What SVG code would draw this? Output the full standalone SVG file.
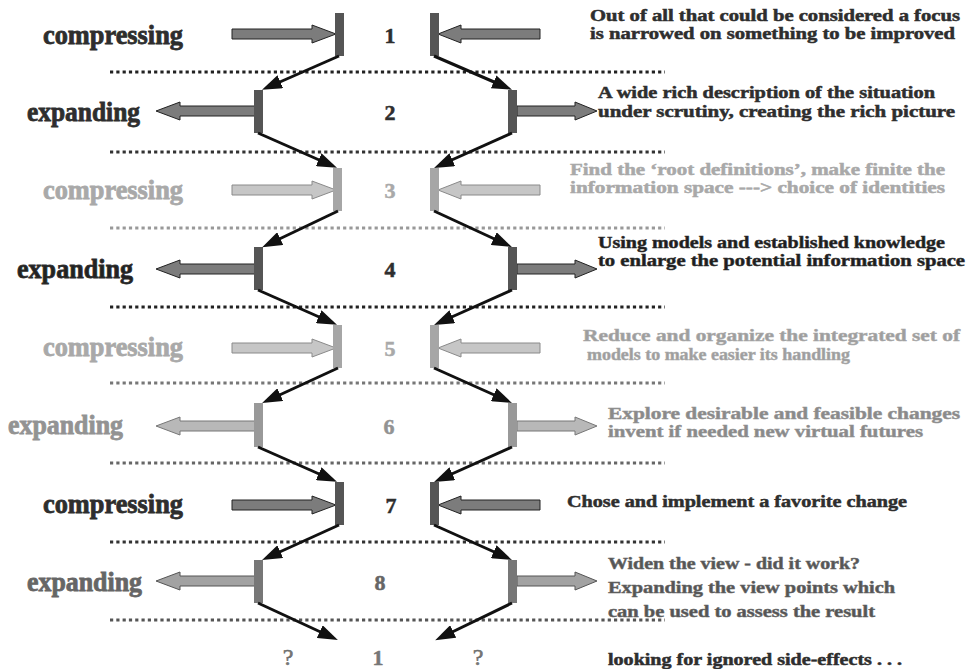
<svg xmlns="http://www.w3.org/2000/svg" width="968" height="669" viewBox="0 0 968 669">
  <defs>
    <style>
      text { font-family: "Liberation Serif", "Times New Roman", serif; font-weight: bold; stroke-width: 0.5; }
      .label { font-size: 27px; stroke-width: 0.8; }
      .num { font-size: 22px; text-anchor: middle; }
      .desc { font-size: 17px; }
      .q { font-size: 24px; font-weight: normal; text-anchor: middle; stroke: none; }
      .link { fill: none; stroke: #111; stroke-width: 3; marker-end: url(#head); }
      .div { fill: none; stroke-width: 3; stroke-dasharray: 3.2 3.1; }
      /* tones */
      .dark text { fill: #2e2e2e; stroke: #2e2e2e; }
      .dark .bar { fill: #555; }
      .dark .blk { fill: #7c7c7c; stroke: #222; stroke-width: 1; }
      .light text { fill: #a9a9a9; stroke: #a9a9a9; }
      .light .bar { fill: #a6a6a6; }
      .light .blk { fill: #c6c6c6; stroke: #8a8a8a; stroke-width: 1; }
      .mid text { fill: #939393; stroke: #939393; }
      .mid .bar { fill: #999; }
      .mid .blk { fill: #b8b8b8; stroke: #777; stroke-width: 1; }
      .deep text { fill: #666; stroke: #666; }
      .deep .bar { fill: #777; }
      .deep .blk { fill: #a2a2a2; stroke: #555; stroke-width: 1; }
    </style>
    <marker id="head" viewBox="0 0 20 14" markerUnits="userSpaceOnUse" markerWidth="20" markerHeight="14" refX="8" refY="7" orient="auto">
      <path d="M0,0 L20,7 L0,14 Z" fill="#111"/>
    </marker>
    <!-- block arrows drawn around a centre line at y=0 -->
    <polygon id="arrow-in-left" points="232,-5 312,-5 312,-9 336,0 312,9 312,5 232,5"/>
    <polygon id="arrow-in-right" points="540,-5 461,-5 461,-9 438,0 461,9 461,5 540,5"/>
    <polygon id="arrow-out-left" points="255,-5 180,-5 180,-9 156,0 180,9 180,5 255,5"/>
    <polygon id="arrow-out-right" points="517,-5 575,-5 575,-9 597,0 575,9 575,5 517,5"/>
  </defs>

  <rect width="968" height="669" fill="#fff"/>

  <!-- dotted dividers between stages -->
  <g id="dividers">
    <line class="div" x1="110" y1="72" x2="665" y2="72" stroke="#222"/>
    <line class="div" x1="110" y1="152" x2="665" y2="152" stroke="#333"/>
    <line class="div" x1="110" y1="228" x2="665" y2="228" stroke="#999"/>
    <line class="div" x1="110" y1="307" x2="665" y2="307" stroke="#222"/>
    <line class="div" x1="110" y1="383" x2="665" y2="383" stroke="#777"/>
    <line class="div" x1="110" y1="463" x2="665" y2="463" stroke="#666"/>
    <line class="div" x1="110" y1="542" x2="665" y2="542" stroke="#333"/>
    <line class="div" x1="110" y1="620" x2="665" y2="620" stroke="#555"/>
  </g>

  <!-- stage 1: compressing -->
  <g id="stage-1" class="dark">
    <text class="label" x="43" y="44" textLength="140" lengthAdjust="spacingAndGlyphs">compressing</text>
    <use href="#arrow-in-left" class="blk" transform="translate(0,34)"/>
    <use href="#arrow-in-right" class="blk" transform="translate(0,34)"/>
    <rect class="bar" x="335" y="13" width="9" height="43"/>
    <rect class="bar" x="430" y="13" width="9" height="43"/>
    <text class="num" x="390" y="43">1</text>
    <text class="desc" x="590" y="21" textLength="370" lengthAdjust="spacingAndGlyphs">Out of all that could be considered a focus</text>
    <text class="desc" x="590" y="39" textLength="365" lengthAdjust="spacingAndGlyphs">is narrowed on something to be improved</text>
  </g>

  <!-- stage 2: expanding -->
  <g id="stage-2" class="dark">
    <text class="label" x="27" y="121" textLength="113" lengthAdjust="spacingAndGlyphs">expanding</text>
    <use href="#arrow-out-left" class="blk" transform="translate(0,111)"/>
    <use href="#arrow-out-right" class="blk" transform="translate(0,111)"/>
    <rect class="bar" x="254" y="90" width="9" height="43"/>
    <rect class="bar" x="508" y="90" width="9" height="43"/>
    <text class="num" x="390" y="120">2</text>
    <text class="desc" x="598" y="98" textLength="337" lengthAdjust="spacingAndGlyphs">A wide rich description of the situation</text>
    <text class="desc" x="598" y="117" textLength="357" lengthAdjust="spacingAndGlyphs">under scrutiny, creating the rich picture</text>
  </g>

  <!-- stage 3: compressing -->
  <g id="stage-3" class="light">
    <text class="label" x="43" y="199" textLength="140" lengthAdjust="spacingAndGlyphs">compressing</text>
    <use href="#arrow-in-left" class="blk" transform="translate(0,190)"/>
    <use href="#arrow-in-right" class="blk" transform="translate(0,190)"/>
    <rect class="bar" x="333" y="168" width="9" height="43"/>
    <rect class="bar" x="430" y="168" width="9" height="43"/>
    <text class="num" x="390" y="198">3</text>
    <text class="desc" x="570" y="175" textLength="375" lengthAdjust="spacingAndGlyphs">Find the ‘root definitions’, make finite the</text>
    <text class="desc" x="570" y="193" textLength="375" lengthAdjust="spacingAndGlyphs">information space ---&gt; choice of identities</text>
  </g>

  <!-- stage 4: expanding -->
  <g id="stage-4" class="dark">
    <text class="label" x="17" y="278" textLength="116" lengthAdjust="spacingAndGlyphs" style="fill:#222">expanding</text>
    <use href="#arrow-out-left" class="blk" transform="translate(0,269)"/>
    <use href="#arrow-out-right" class="blk" transform="translate(0,269)"/>
    <rect class="bar" x="254" y="247" width="9" height="43"/>
    <rect class="bar" x="508" y="247" width="9" height="43"/>
    <text class="num" x="390" y="277">4</text>
    <text class="desc" x="598" y="248" textLength="347" lengthAdjust="spacingAndGlyphs" style="fill:#1e1e1e">Using models and established knowledge</text>
    <text class="desc" x="598" y="266" textLength="367" lengthAdjust="spacingAndGlyphs" style="fill:#1e1e1e">to enlarge the potential  information space</text>
  </g>

  <!-- stage 5: compressing -->
  <g id="stage-5" class="light">
    <text class="label" x="43" y="356" textLength="140" lengthAdjust="spacingAndGlyphs">compressing</text>
    <use href="#arrow-in-left" class="blk" transform="translate(0,348)"/>
    <use href="#arrow-in-right" class="blk" transform="translate(0,348)"/>
    <rect class="bar" x="333" y="325" width="9" height="43"/>
    <rect class="bar" x="430" y="325" width="9" height="43"/>
    <text class="num" x="390" y="356">5</text>
    <text class="desc" x="583" y="341" textLength="377" lengthAdjust="spacingAndGlyphs" style="fill:#9e9e9e">Reduce and organize the integrated set of</text>
    <text class="desc" x="587" y="360" textLength="263" lengthAdjust="spacingAndGlyphs" style="fill:#9e9e9e">models to make easier its handling</text>
  </g>

  <!-- stage 6: expanding -->
  <g id="stage-6" class="mid">
    <text class="label" x="8" y="434" textLength="115" lengthAdjust="spacingAndGlyphs">expanding</text>
    <use href="#arrow-out-left" class="blk" transform="translate(0,426)"/>
    <use href="#arrow-out-right" class="blk" transform="translate(0,426)"/>
    <rect class="bar" x="254" y="403" width="9" height="44"/>
    <rect class="bar" x="508" y="403" width="9" height="44"/>
    <text class="num" x="389" y="434">6</text>
    <text class="desc" x="608" y="419" textLength="352" lengthAdjust="spacingAndGlyphs" style="fill:#8a8a8a">Explore desirable and feasible changes</text>
    <text class="desc" x="608" y="437" textLength="315" lengthAdjust="spacingAndGlyphs" style="fill:#8a8a8a">invent if needed  new virtual futures</text>
  </g>

  <!-- stage 7: compressing -->
  <g id="stage-7" class="dark">
    <text class="label" x="43" y="513" textLength="140" lengthAdjust="spacingAndGlyphs">compressing</text>
    <use href="#arrow-in-left" class="blk" transform="translate(0,505)"/>
    <use href="#arrow-in-right" class="blk" transform="translate(0,505)"/>
    <rect class="bar" x="335" y="482" width="9" height="43"/>
    <rect class="bar" x="430" y="482" width="9" height="43"/>
    <text class="num" x="391" y="513">7</text>
    <text class="desc" x="567" y="507" textLength="340" lengthAdjust="spacingAndGlyphs">Chose and implement a favorite change</text>
  </g>

  <!-- stage 8: expanding -->
  <g id="stage-8" class="deep">
    <text class="label" x="27" y="591" textLength="115" lengthAdjust="spacingAndGlyphs">expanding</text>
    <use href="#arrow-out-left" class="blk" transform="translate(0,581)"/>
    <use href="#arrow-out-right" class="blk" transform="translate(0,581)"/>
    <rect class="bar" x="254" y="560" width="9" height="43"/>
    <rect class="bar" x="508" y="560" width="9" height="43"/>
    <text class="num" x="380" y="590">8</text>
    <text class="desc" x="608" y="569" textLength="252" lengthAdjust="spacingAndGlyphs" style="fill:#555">Widen the view - did it work?</text>
    <text class="desc" x="608" y="593" textLength="287" lengthAdjust="spacingAndGlyphs" style="fill:#555">Expanding the view points which</text>
    <text class="desc" x="608" y="617" textLength="267" lengthAdjust="spacingAndGlyphs" style="fill:#555">can be used to assess the result</text>
  </g>

  <!-- back to the start -->
  <g id="stage-restart" class="deep">
    <text class="q" x="288" y="665" style="fill:#777">?</text>
    <text class="num" x="378" y="665" style="fill:#777;stroke:#777">1</text>
    <text class="q" x="478" y="665" style="fill:#777">?</text>
    <text class="desc" x="608" y="665" textLength="294" lengthAdjust="spacingAndGlyphs" style="fill:#2e2e2e;stroke:#2e2e2e">looking for  ignored side-effects . . .</text>
  </g>

  <!-- flow between stages -->
  <g id="connectors">
    <path class="link" d="M339,56 L273,85"/>
    <path class="link" d="M434,56 L501,85"/>
    <path class="link" d="M258,133 L326,163"/>
    <path class="link" d="M512,133 L445,163"/>
    <path class="link" d="M338,211 L273,242"/>
    <path class="link" d="M434,211 L501,242"/>
    <path class="link" d="M258,290 L326,320"/>
    <path class="link" d="M512,290 L445,320"/>
    <path class="link" d="M338,368 L273,398"/>
    <path class="link" d="M434,368 L501,398"/>
    <path class="link" d="M258,447 L326,477"/>
    <path class="link" d="M512,447 L445,477"/>
    <path class="link" d="M339,525 L273,555"/>
    <path class="link" d="M434,525 L501,555"/>
    <path class="link" d="M258,603 L327,635"/>
    <path class="link" d="M512,603 L446,635"/>
  </g>
</svg>
